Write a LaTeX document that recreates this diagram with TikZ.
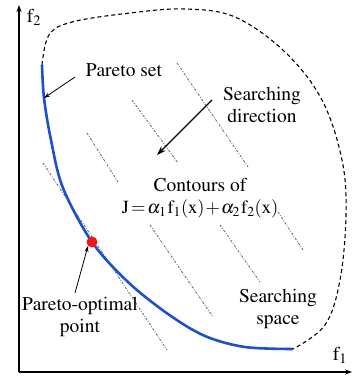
\documentclass[tikz,border=0pt]{standalone}
\usepackage[T1]{fontenc}
\usepackage{mathptmx}
\usetikzlibrary{arrows.meta}
\definecolor{paretoBlue}{RGB}{30,80,200}
\definecolor{dotRed}{RGB}{235,25,25}
\definecolor{contGray}{RGB}{90,120,135}
\tikzset{
  axisline/.style = {-{Stealth[length=7pt,width=5pt]}, line width=1.1pt},
  txt/.style      = {align=center, inner sep=0pt,
                     font=\fontsize{19.5}{22}\selectfont},
  contour/.style  = {contGray, line width=0.9pt,
                     dash pattern=on 2.4pt off 1.5pt on 0.8pt off 1.5pt},
  bound/.style    = {line width=1.1pt, dash pattern=on 4pt off 3pt},
  arr/.style      = {-{Stealth[length=6pt,width=4pt]}, line width=0.8pt},
  arrk/.style     = {-{Stealth[length=9pt,width=6pt]}, line width=1.4pt}
}

\begin{document}
\begin{tikzpicture}[x=1pt, y=-1pt]
    \useasboundingbox (0,0) rectangle (353,378);

    % axes
    \coordinate (O) at (19,372);
    \coordinate (ytop) at (19,5);
    \coordinate (xend) at (352,372);
    \draw[axisline] (O) -- (ytop);
    \draw[axisline] (O) -- (xend);
    \node[txt] (f2) at (34,17) {$\mathrm{f}_2$};
    \node[txt] (f1) at (340,355) {$\mathrm{f}_1$};

    % contours of J
    \draw[contour] (87,133) -- (118,182);
    \draw[contour] (132,100) -- (178,163);
    \draw[contour] (177,63) -- (248,167);
    \draw[contour] (43,163) -- (167,350);
    \draw[contour] (150,225) -- (213,317);
    \draw[contour] (220,225) -- (260,282);
    \draw[contour] (278,212) -- (303,250);

    % searching space boundary
    \coordinate (pA) at (42,65);
    \coordinate (pB) at (293,349);
    \draw[bound] plot[smooth, tension=0.6] coordinates {(42,65) (49,35) (72,22)
        (130,13) (185,9) (235,17) (285,52) (322,100) (342,160) (346,215)
        (340,280) (325,325) (293,349)};

    % Pareto set
    \draw[paretoBlue, line width=2.6pt] plot[smooth, tension=0.55] coordinates
        {(pA) (44,98) (51,140) (63,188) (92,242) (128,282) (168,314)
         (205,336) (245,347) (pB)};

    \node[circle, fill=dotRed, minimum size=11pt, inner sep=0pt] (popt) at (92,242) {};

    % labels
    \node[txt] (pset) at (124,70) {Pareto set};
    \node[txt] (sdir) at (262,105) {Searching\\direction};
    \node[txt] (cont) at (200,185) {Contours of};
    \node[txt, font=\fontsize{18.5}{21}\selectfont] (jfun) at (200,209)
        {$\thickmuskip=2mu \medmuskip=1mu
          \mathrm{J}=\alpha_{1}\mkern1mu\mathrm{f}_{1}(\mathrm{x})+\alpha_{2}\mkern1mu\mathrm{f}_{2}(\mathrm{x})$};
    \node[txt] (sspace) at (278,309) {Searching\\space};
    \node[txt] (plabel) at (80,317) {Pareto-optimal\\point};

    % pointers
    \coordinate (psetS) at (75,77);
    \coordinate (psetE) at (44,98);
    \coordinate (sdirS) at (212,100);
    \coordinate (sdirE) at (157,155);
    \coordinate (poptS) at (75,293);
    \draw[arr] (psetS) -- (psetE);
    \draw[arrk] (sdirS) -- (sdirE);
    \draw[arr] (poptS) -- (popt.south west);
\end{tikzpicture}
\end{document}
